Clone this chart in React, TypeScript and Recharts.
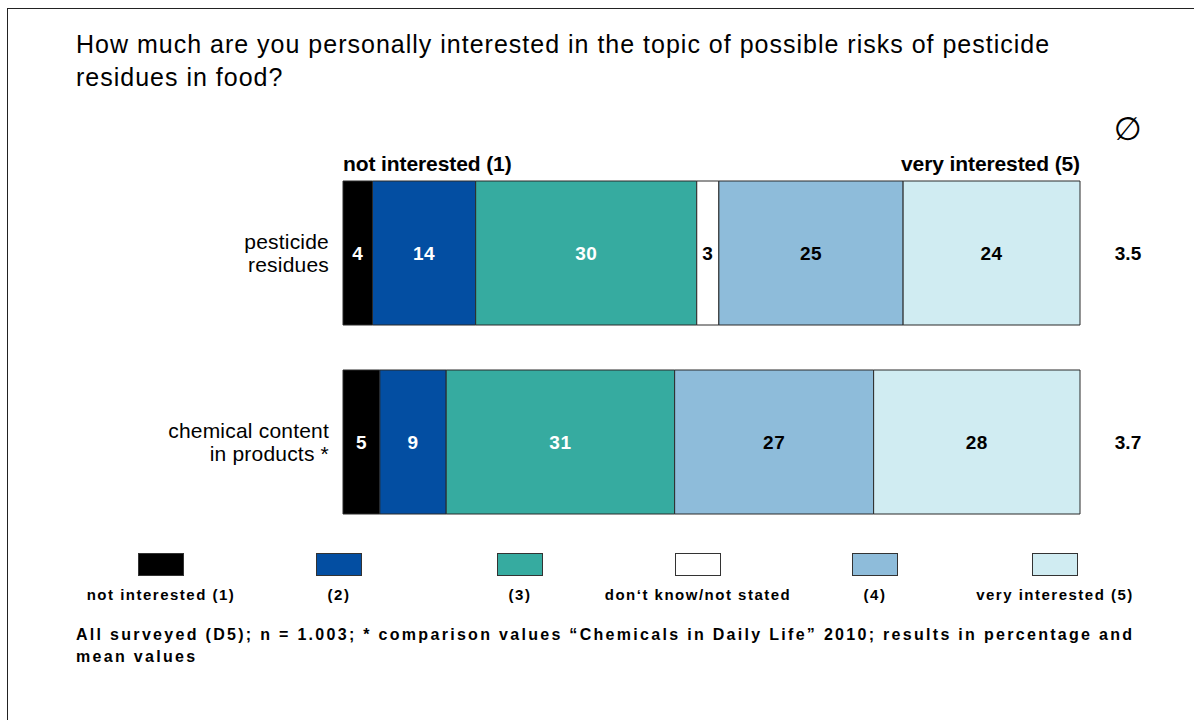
import React from "react";
import { BarChart, Bar, XAxis, YAxis, LabelList } from "recharts";

const categories = ["pesticide residues", "chemical content in products *"];
const categoryLines = [
  ["pesticide", "residues"],
  ["chemical content", "in products *"],
];
const notInterested = [4, 5];
const level2 = [14, 9];
const level3 = [30, 31];
const dontKnow = [3, 0];
const level4 = [25, 27];
const veryInterested = [24, 28];
const means = [3.5, 3.7];

const seriesNames = [
  "not interested (1)",
  "(2)",
  "(3)",
  "don\u2018t know/not stated",
  "(4)",
  "very interested (5)",
];
const seriesColors = ["#000000", "#034ea2", "#36aba0", "#ffffff", "#8ebcda", "#d0ecf2"];
const labelColors = ["#ffffff", "#ffffff", "#ffffff", "#000000", "#000000", "#000000"];
const scaleLabels = ["not interested (1)", "very interested (5)"];
const scaleTicks = [0, 100];

const title1 = "How much are you personally interested in the topic of possible risks of pesticide";
const title2 = "residues in food?";
const note1 =
  "All surveyed (D5); n = 1.003; * comparison values \u201cChemicals in Daily Life\u201d 2010; results in percentage and";
const note2 = "mean values";

const seriesValues = [notInterested, level2, level3, dontKnow, level4, veryInterested];
const keys = ["s0", "s1", "s2", "s3", "s4", "s5"];

const data = categories.map((name, i) => {
  const row: any = { name, mean: means[i], idx: i };
  keys.forEach((k, j) => {
    row[k] = seriesValues[j][i];
  });
  return row;
});

const FONT = '"Liberation Sans", Arial, Helvetica, sans-serif';

const legendCenters = [161, 339, 520, 698, 875, 1055];

function makeValueLabel(color: string) {
  return (props: any) => {
    const { x, y, width, height, value } = props;
    if (!value) return null;
    return (
      <text
        x={x + width / 2}
        y={y + height / 2}
        dy={7}
        textAnchor="middle"
        fill={color}
        fontFamily={FONT}
        fontWeight="bold"
        fontSize={19}
        letterSpacing={0.5}
      >
        {value}
      </text>
    );
  };
}

const MeanLabel = (props: any) => {
  const { x, y, width, height, value } = props;
  return (
    <text
      x={x + width + 48}
      y={y + height / 2}
      dy={7}
      textAnchor="middle"
      fill="#000"
      fontFamily={FONT}
      fontWeight="bold"
      fontSize={19}
    >
      {Number(value).toFixed(1)}
    </text>
  );
};

const CategoryTick = (props: any) => {
  const { x, y, payload } = props;
  const i = categories.indexOf(payload.value);
  const lines = categoryLines[i] || [payload.value];
  return (
    <text
      x={x}
      y={y}
      textAnchor="end"
      fill="#000"
      fontFamily={FONT}
      fontSize={21}
      letterSpacing={0.2}
    >
      {lines.map((l, k) => (
        <tspan key={k} x={x} dy={k === 0 ? -4 : 23}>
          {l}
        </tspan>
      ))}
    </text>
  );
};

const ScaleTick = (props: any) => {
  const { x, y, payload } = props;
  const i = scaleTicks.indexOf(payload.value);
  return (
    <text
      x={x}
      y={y + 13}
      textAnchor={i === 0 ? "start" : "end"}
      fill="#000"
      fontFamily={FONT}
      fontWeight="bold"
      fontSize={21}
      letterSpacing={-0.1}
    >
      {scaleLabels[i]}
    </text>
  );
};

export default function App() {
  return (
    <div style={{ position: "absolute", left: 0, top: 0, width: 1194, height: 720, overflow: "hidden", background: "#fff" }}>
      <div
        style={{
          position: "absolute",
          left: 7,
          top: 8,
          width: 1200,
          height: 720,
          borderLeft: "1.5px solid #222",
          borderTop: "1.5px solid #222",
        }}
      />
      <div
        style={{
          position: "absolute",
          left: 76,
          top: 28,
          fontFamily: FONT,
          fontSize: 25,
          lineHeight: "33px",
          letterSpacing: 1,
          color: "#000",
          whiteSpace: "nowrap",
        }}
      >
        <div>{title1}</div>
        <div>{title2}</div>
      </div>
      <div
        style={{
          position: "absolute",
          left: 1108,
          top: 110,
          width: 40,
          textAlign: "center",
          fontFamily: '"DejaVu Sans", sans-serif',
          fontSize: 32,
          lineHeight: "38px",
          color: "#000",
        }}
      >
        {"\u2205"}
      </div>
      <div style={{ position: "absolute", left: 0, top: 0 }}>
        <BarChart
          width={1194}
          height={720}
          data={data}
          layout="vertical"
          margin={{ top: 128, right: 114, bottom: 184, left: 243 }}
          barSize={144}
        >
          <XAxis
            type="number"
            orientation="top"
            domain={[0, 100]}
            ticks={scaleTicks}
            axisLine={false}
            tickLine={false}
            tickSize={0}
            tickMargin={0}
            height={30}
            tick={<ScaleTick />}
            interval={0}
          />
          <YAxis
            type="category"
            dataKey="name"
            width={100}
            axisLine={false}
            tickLine={false}
            tickSize={0}
            tickMargin={14}
            tick={<CategoryTick />}
            interval={0}
          />
          {keys.map((k, j) => (
            <Bar
              key={k}
              dataKey={k}
              stackId="a"
              fill={seriesColors[j]}
              stroke="#2a2a2a"
              strokeWidth={1}
              isAnimationActive={false}
            >
              <LabelList dataKey={k} content={makeValueLabel(labelColors[j])} />
              {j === keys.length - 1 ? <LabelList dataKey="mean" content={<MeanLabel />} /> : null}
            </Bar>
          ))}
        </BarChart>
      </div>
      {seriesNames.map((n, j) => (
        <React.Fragment key={n}>
          <div
            style={{
              position: "absolute",
              left: legendCenters[j] - 23,
              top: 553,
              width: 44,
              height: 21,
              background: seriesColors[j],
              border: "1px solid #333",
            }}
          />
          <div
            style={{
              position: "absolute",
              left: legendCenters[j] - 120,
              width: 240,
              top: 585,
              textAlign: "center",
              fontFamily: FONT,
              fontSize: 15,
              fontWeight: "bold",
              letterSpacing: 1.5,
              lineHeight: "20px",
              color: "#000",
              whiteSpace: "nowrap",
            }}
          >
            {n}
          </div>
        </React.Fragment>
      ))}
      <div
        style={{
          position: "absolute",
          left: 76,
          top: 624,
          fontFamily: FONT,
          fontSize: 16,
          fontWeight: "bold",
          letterSpacing: 2.3,
          lineHeight: "22px",
          color: "#000",
          whiteSpace: "nowrap",
        }}
      >
        <div>{note1}</div>
        <div>{note2}</div>
      </div>
    </div>
  );
}
